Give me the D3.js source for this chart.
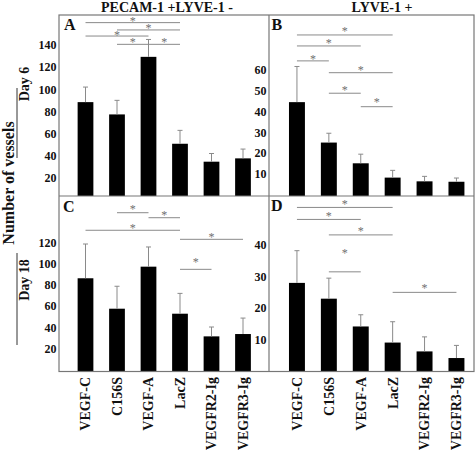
<!DOCTYPE html>
<html><head><meta charset="utf-8">
<script src="https://cdn.jsdelivr.net/npm/d3@7"></script>
<style>
html,body{margin:0;padding:0;background:#fff;}
text{font-family:"Liberation Serif","Times New Roman",serif;font-weight:bold;}
</style></head>
<body>
<svg id="chart" width="475" height="454"></svg>
<script>
// ---- data ----
const categories = ["VEGF-C","C156S","VEGF-A","LacZ","VEGFR2-Ig","VEGFR3-Ig"];
const columnTitles = ["PECAM-1 +LYVE-1 -","LYVE-1 +"];
const rowTitles = ["Day 6","Day 18"];
const yAxisTitle = "Number of vessels";
const panelLetters = ["A","B","C","D"];

const day6Pecam    = [88.4, 77.3, 129.3, 50.8, 34.6, 37.6];
const day6PecamErr = [13.6, 12.7, 15.7, 12.1, 7.4, 8.4];
const day6Lyve     = [44.5, 25.0, 15.0, 8.1, 6.3, 6.1];
const day6LyveErr  = [17.2, 4.5, 4.4, 3.5, 2.4, 1.8];
const day18Pecam    = [86.2, 57.6, 97.1, 52.9, 31.6, 33.8];
const day18PecamErr = [32.2, 21.1, 18.5, 19.1, 8.8, 15.0];
const day18Lyve     = [28.0, 23.0, 14.2, 9.1, 6.3, 4.2];
const day18LyveErr  = [10.2, 6.5, 3.7, 6.6, 4.6, 4.0];

const ticksA = [20,40,60,80,100,120,140];
const ticksB = [10,20,30,40,50,60];
const ticksC = [20,40,60,80,100,120];
const ticksD = [10,20,30,40];

// significance comparisons: [from index, to index, line level, star level] (data units)
const sigA = [[0,3,160.2,163.5],[1,3,153.6,157.2],[0,2,148.1,150.9],[1,2,140.6,143.9],[2,3,140.6,143.9]];
const sigB = [[0,3,76.9,79.6],[0,2,71.6,74.0],[0,1,64.4,66.3],[1,3,58.7,61.0],[1,2,48.8,51.3],[2,3,42.3,45.1]];
const sigC = [[1,2,147.8,153.2],[2,3,143.1,147.5],[0,3,131.3,135.3],[3,5,122.8,126.9],[3,4,94.6,102.7]];
const sigD = [[0,3,51.9,53.4],[0,2,48.1,49.8],[1,3,43.2,44.8],[1,2,31.5,37.9],[3,5,25.0,27.0]];

// ---- layout ----
const svg = d3.select("#chart");
const L = 59, M = 269, R = 474, T = 15, MID = 196, B = 371.5;
const gray = "#8a8a8a";

const panels = [
  {letter:panelLetters[0], vals:day6Pecam,  err:day6PecamErr,  ticks:ticksA, sig:sigA,
   x0:L, yDom:[0,140], yRng:[200,45],   base:MID, xr:[69.75,258.75], lx:[64,30]},
  {letter:panelLetters[1], vals:day6Lyve,   err:day6LyveErr,   ticks:ticksB, sig:sigB,
   x0:M, yDom:[0,60],  yRng:[194.4,70], base:MID, xr:[281,472.4],    lx:[271.5,30]},
  {letter:panelLetters[2], vals:day18Pecam, err:day18PecamErr, ticks:ticksC, sig:sigC,
   x0:L, yDom:[0,120], yRng:[370,242.3], base:B,  xr:[69.75,258.75], lx:[63,211.5]},
  {letter:panelLetters[3], vals:day18Lyve,  err:day18LyveErr,  ticks:ticksD, sig:sigD,
   x0:M, yDom:[0,40],  yRng:[371.3,245], base:B,  xr:[281,472.4],    lx:[271,210.5]}
];

panels.forEach(p => {
  const x = d3.scaleBand().domain(categories).range(p.xr).paddingInner(0.5).paddingOuter(0.25);
  const y = d3.scaleLinear().domain(p.yDom).range(p.yRng);
  const g = svg.append("g");

  // bars
  g.selectAll("rect.bar").data(categories).join("rect")
    .attr("x", d => x(d)).attr("width", x.bandwidth())
    .attr("y", (d,i) => y(p.vals[i]))
    .attr("height", (d,i) => p.base - y(p.vals[i]))
    .attr("fill", "#000");

  // error bars
  const eb = g.selectAll("g.err").data(categories).join("g");
  eb.append("line")
    .attr("x1", d => x(d) + x.bandwidth()/2).attr("x2", d => x(d) + x.bandwidth()/2)
    .attr("y1", (d,i) => y(p.vals[i])).attr("y2", (d,i) => y(p.vals[i] + p.err[i]))
    .attr("stroke", gray).attr("stroke-width", 1);
  eb.append("line")
    .attr("x1", d => x(d) + x.bandwidth()/2 - 2.5).attr("x2", d => x(d) + x.bandwidth()/2 + 2.5)
    .attr("y1", (d,i) => y(p.vals[i] + p.err[i])).attr("y2", (d,i) => y(p.vals[i] + p.err[i]))
    .attr("stroke", gray).attr("stroke-width", 1);

  // y axis labels
  const ax = g.append("g").attr("transform", `translate(${p.x0},0)`)
    .call(d3.axisLeft(y).tickValues(p.ticks).tickSize(0).tickPadding(2.5));
  ax.select(".domain").remove();
  ax.selectAll("text").attr("font-size", 12).attr("fill", "#111")
    .style("font-family", '"Liberation Serif",serif').style("font-weight", "bold");

  // significance lines
  p.sig.forEach(s => {
    const xa = x(categories[s[0]]) + x.bandwidth()/2;
    const xb = x(categories[s[1]]) + x.bandwidth()/2;
    g.append("line").attr("x1", xa).attr("x2", xb)
      .attr("y1", y(s[2])).attr("y2", y(s[2]))
      .attr("stroke", gray).attr("stroke-width", 1);
    g.append("text").attr("x", (xa + xb)/2).attr("y", y(s[3]) + 5.6)
      .attr("text-anchor", "middle").attr("font-size", 12).attr("fill", "#707070")
      .style("font-weight", "normal").text("*");
  });

  // panel letter
  g.append("text").attr("x", p.lx[0]).attr("y", p.lx[1])
    .attr("font-size", 16).attr("fill", "#111").text(p.letter);

  // x labels (bottom row only)
  if (p.base === B) {
    g.selectAll("text.xl").data(categories).join("text")
      .attr("transform", d => `translate(${x(d) + x.bandwidth()/2},377) rotate(-90)`)
      .attr("text-anchor", "end").attr("dy", "0.35em")
      .attr("font-size", 14).attr("fill", "#111").text(d => d);
  }
});

// frame
const frame = svg.append("g").attr("stroke", "#777").attr("stroke-width", 1.2).attr("fill", "none");
frame.append("rect").attr("x", L).attr("y", T).attr("width", R - L).attr("height", B - T);
frame.append("line").attr("x1", M).attr("x2", M).attr("y1", T).attr("y2", B);
frame.append("line").attr("x1", L).attr("x2", R).attr("y1", MID).attr("y2", MID);

// column titles
svg.append("text").attr("x", 167).attr("y", 11.5).attr("text-anchor", "middle")
  .attr("font-size", 14).attr("fill", "#111").text(columnTitles[0]);
svg.append("text").attr("x", 382).attr("y", 11.5).attr("text-anchor", "middle")
  .attr("font-size", 14).attr("fill", "#111").text(columnTitles[1]);

// y axis title
svg.append("text").attr("transform", "translate(13.5,183) rotate(-90)")
  .attr("text-anchor", "middle").attr("font-size", 16).attr("fill", "#111").text(yAxisTitle);

// row titles with overline
const rows = [{t:rowTitles[0], cy:84, l:[88,158]}, {t:rowTitles[1], cy:280, l:[253,345]}];
rows.forEach(r => {
  svg.append("text").attr("transform", `translate(28.5,${r.cy}) rotate(-90)`)
    .attr("text-anchor", "middle").attr("font-size", 14).attr("fill", "#111").text(r.t);
  svg.append("line").attr("x1", 17).attr("x2", 17).attr("y1", r.l[0]).attr("y2", r.l[1])
    .attr("stroke", "#333").attr("stroke-width", 1);
});
</script>
</body></html>
